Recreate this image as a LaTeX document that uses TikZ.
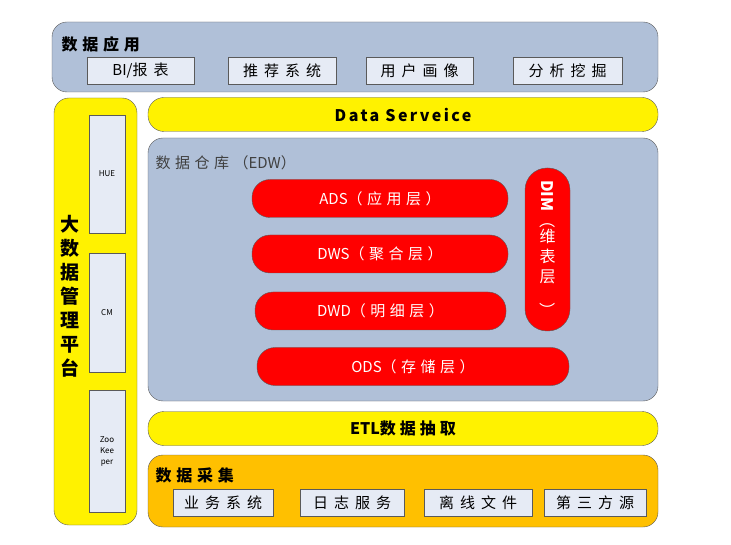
\documentclass[tikz,border=0pt]{standalone}
\usepackage{fontspec}
\setmainfont{Noto Sans CJK SC}
\usetikzlibrary{positioning}
\definecolor{panelgray}{RGB}{176,192,216}
\definecolor{itemblue}{RGB}{230,235,245}
\definecolor{collectorange}{RGB}{255,192,0}
\definecolor{edgegray}{RGB}{90,90,90}
% spaced-out CJK text
\newcommand{\wide}[2][40]{{\addfontfeature{LetterSpace=#1}#2}}

\begin{document}
\begin{tikzpicture}[x=1pt, y=-1pt,
  panel/.style={draw=edgegray, rounded corners=15pt, inner sep=0pt,
                outer sep=0pt},
  strip/.style={draw=edgegray, fill=yellow, rounded corners=16pt,
                minimum width=510pt, minimum height=34pt,
                font=\fontsize{16}{18}\selectfont\bfseries},
  item/.style={draw=edgegray, fill=itemblue, minimum height=27pt,
               inner sep=0pt, font=\fontsize{15}{18}\selectfont},
  tool/.style={draw=edgegray, fill=itemblue, minimum width=36pt,
               inner sep=0pt, align=center,
               font=\fontsize{8}{11}\selectfont},
  layer/.style={draw=edgegray, fill=red, rounded corners=18pt,
                minimum height=38pt, text=white,
                font=\fontsize{15}{18}\selectfont},
  title/.style={anchor=west, font=\fontsize{16}{18}\selectfont\bfseries}
]
  \useasboundingbox (0,0) rectangle (731,545);

  % data application
  \node[panel, fill=panelgray, minimum width=606pt, minimum height=70pt]
    (app) at (355,57) {};
  \node[title] (apptitle) at (58,44) {\wide[30]{数据应用}};
  \node[item, minimum width=107pt] (bi) at (140.5,71) {BI/\wide{报表}};
  \node[item, minimum width=108pt] (rec) at (282,71) {\wide{推荐系统}};
  \node[item, minimum width=107pt] (user) at (419.5,71) {\wide{用户画像}};
  \node[item, minimum width=109pt] (mine) at (567.5,71) {\wide{分析挖掘}};

  % management platform
  \node[panel, fill=yellow, minimum width=83pt, minimum height=427pt]
    (mgmt) at (95.5,311.5) {};
  \node[align=center, font=\fontsize{19}{24}\selectfont\bfseries]
    (mgmttitle) at (70,296) {大\\数\\据\\管\\理\\平\\台};
  \node[tool, minimum height=118pt] (hue) at (107,174) {HUE};
  \node[tool, minimum height=119pt] (cm) at (107,312.5) {CM};
  \node[tool, minimum height=122pt] (zk) at (107,451) {Zoo\\Kee\\per};

  % data service
  \node[strip] (service) at (403,114.5) {\wide[15]{Data Serveice}};

  % warehouse
  \node[panel, fill=panelgray, minimum width=510pt, minimum height=263pt]
    (edw) at (403,269.5) {};
  \node[title, font=\fontsize{15}{18}\selectfont, text=black!75]
    (edwtitle) at (152,163) {\wide[30]{数据仓库（}EDW）};
  \node[layer, minimum width=256pt] (ads) at (380,198.5) {ADS\wide[30]{（应用层）}};
  \node[layer, minimum width=256pt] (dws) at (380,254) {DWS\wide[30]{（聚合层）}};
  \node[layer, minimum width=251pt] (dwd) at (380.5,311) {DWD\wide[30]{（明细层）}};
  \node[layer, minimum width=312pt] (ods) at (413,366.5) {ODS\wide[30]{（存储层）}};
  \node[layer, rounded corners=22pt, minimum width=45pt, minimum height=163pt,
        align=center, inner sep=0pt, font=\fontsize{16}{20}\selectfont]
    (dim) at (547.5,249.5)
    {\rotatebox{-90}{\bfseries DIM}\\\rotatebox{-90}{（}\\维\\表\\层\\\rotatebox{-90}{）}};

  % extraction
  \node[strip] (etl) at (403,428.5) {ETL\wide[25]{数据抽取}};

  % collection
  \node[panel, fill=collectorange, minimum width=510pt, minimum height=72pt]
    (collect) at (403,491) {};
  \node[title] (collecttitle) at (152,475) {\wide[30]{数据采集}};
  \node[item, minimum width=100pt] (biz) at (223,503) {\wide{业务系统}};
  \node[item, minimum width=104pt] (log) at (352,503) {\wide{日志服务}};
  \node[item, minimum width=108pt] (file) at (478,503) {\wide{离线文件}};
  \node[item, minimum width=102pt] (third) at (595,503) {\wide{第三方源}};
\end{tikzpicture}
\end{document}
